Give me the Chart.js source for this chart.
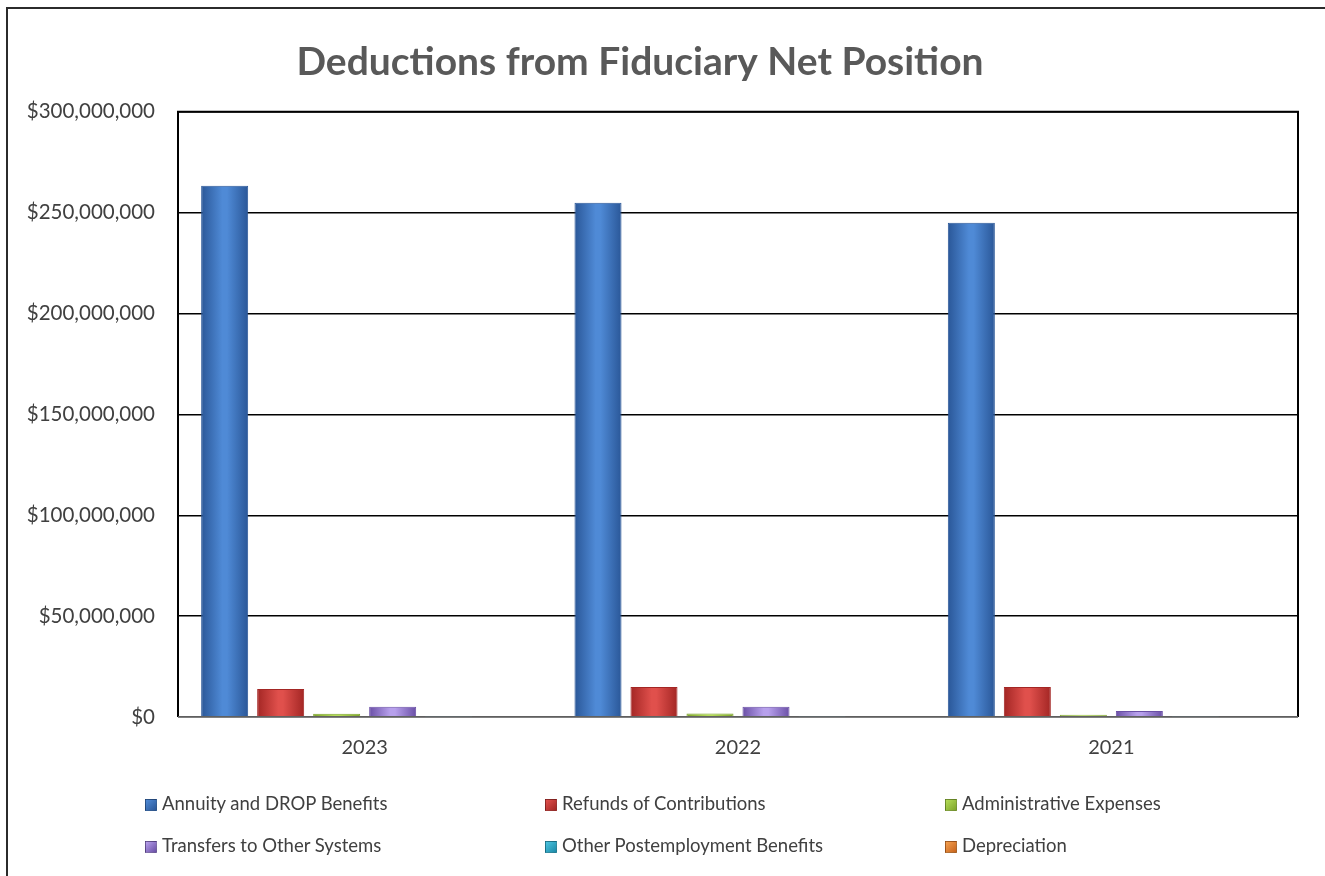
<!DOCTYPE html>
<html>
<head>
<meta charset="utf-8">
<script src="https://cdn.jsdelivr.net/npm/chart.js@4/dist/chart.umd.min.js"></script>
<style>
  html, body { margin: 0; padding: 0; background: #ffffff; }
  #wrap { position: relative; width: 1325px; height: 876px; overflow: hidden; }
  #frame { position: absolute; left: 6px; top: 7px; width: 1330px; height: 880px; border: 2px solid #2b2b2b; box-sizing: border-box; pointer-events: none; }
  canvas { position: absolute; left: 0; top: 0; }
  .lg { position: absolute; font-family: Lato, "Open Sans", sans-serif; font-size: 18.5px; color: #404040; white-space: nowrap; line-height: 24px; }
  .lg i { display: inline-block; width: 12px; height: 12px; margin-right: 5px; vertical-align: -1px; border: 1px solid rgba(0,0,0,0.25); box-sizing: border-box; }
</style>
</head>
<body>
<div id="wrap">
  <canvas id="c" width="1325" height="876"></canvas>
  <div id="frame"></div>
  <div id="legend"></div>
</div>
<script>
const categories = ["2023", "2022", "2021"];
const annuityDrop = [263300000, 254900000, 245000000];
const refunds = [13900000, 14900000, 14900000];
const adminExpenses = [1600000, 1700000, 1100000];
const transfers = [5100000, 5100000, 3000000];
const otherPostemployment = [100000, 100000, 100000];
const depreciation = [400000, 400000, 400000];
const seriesNames = ["Annuity and DROP Benefits", "Refunds of Contributions", "Administrative Expenses", "Transfers to Other Systems", "Other Postemployment Benefits", "Depreciation"];
const yTicks = [0, 50000000, 100000000, 150000000, 200000000, 250000000, 300000000];

const palette = [
  { edge: "#2a5798", mid: "#4f8ad6", flat: "#3b73c0" },
  { edge: "#a32624", mid: "#e0504c", flat: "#c73532" },
  { edge: "#7ea52a", mid: "#b4dc58", flat: "#9cc83c" },
  { edge: "#6a4fa6", mid: "#b7a0ec", flat: "#8b6ec8" },
  { edge: "#1c8aa8", mid: "#4cc4e0", flat: "#2aa8c8" },
  { edge: "#c8641c", mid: "#f4a050", flat: "#e8822a" }
];

function grad(i) {
  return function (ctx) {
    const el = ctx.element;
    const p = palette[i];
    if (!el || el.width === undefined || !isFinite(el.x) || !isFinite(el.width)) return p.flat;
    const c = ctx.chart.ctx;
    const x0 = el.x - el.width / 2, x1 = el.x + el.width / 2;
    const g = c.createLinearGradient(x0, 0, x1, 0);
    g.addColorStop(0, p.edge);
    g.addColorStop(0.45, p.mid);
    g.addColorStop(0.55, p.mid);
    g.addColorStop(1, p.edge);
    return g;
  };
}

const seriesValues = [annuityDrop, refunds, adminExpenses, transfers, otherPostemployment, depreciation];
const datasets = seriesValues.map((vals, i) => ({
  label: seriesNames[i],
  data: vals,
  backgroundColor: grad(i),
  borderColor: palette[i].edge,
  borderWidth: 1,
  barPercentage: 0.84,
  categoryPercentage: 0.9
}));

const plotBorder = {
  id: "plotBorder",
  afterLayout(chart) {
    const t = chart.titleBlock;
    if (t) { t.left -= 18; t.width += 18; }
  },
  afterDraw(chart) {
    const { ctx, chartArea: a } = chart;
    ctx.save();
    ctx.strokeStyle = "#000000";
    ctx.lineWidth = 2;
    ctx.beginPath();
    ctx.moveTo(a.left, a.bottom);
    ctx.lineTo(a.left, a.top);
    ctx.lineTo(a.right, a.top);
    ctx.lineTo(a.right, a.bottom);
    ctx.stroke();
    ctx.strokeStyle = "#7f7f7f";
    ctx.lineWidth = 1.5;
    ctx.beginPath();
    ctx.moveTo(a.left, a.bottom);
    ctx.lineTo(a.right, a.bottom);
    ctx.stroke();
    ctx.restore();
  }
};

const chart = new Chart(document.getElementById("c"), {
  type: "bar",
  data: { labels: categories, datasets: datasets },
  plugins: [plotBorder],
  options: {
    responsive: false,
    animation: false,
    layout: { padding: { left: 0, right: 27, top: 0, bottom: 99 } },
    plugins: {
      legend: { display: false },
      tooltip: { enabled: false },
      title: {
        display: true,
        text: "Deductions from Fiduciary Net Position",
        color: "#595959",
        font: { family: "Lato, 'Open Sans', sans-serif", size: 39, weight: "bold" },
        padding: { top: 39, bottom: 26 }
      }
    },
    scales: {
      x: {
        grid: { display: false, drawTicks: false },
        border: { display: false },
        ticks: { color: "#404040", font: { family: "Lato, 'Open Sans', sans-serif", size: 20 }, padding: 19 },
        afterFit(s) { s.height = 60; }
      },
      y: {
        min: 0, max: 300000000,
        afterBuildTicks(s) { s.ticks = yTicks.map(v => ({ value: v })); },
        grid: { color: "#000000", lineWidth: 1.5, drawTicks: false },
        border: { display: false },
        ticks: {
          color: "#404040",
          font: { family: "Lato, 'Open Sans', sans-serif", size: 20.5 },
          padding: 23,
          callback: v => "$" + Number(v).toLocaleString("en-US")
        },
        afterFit(s) { s.width = 178; }
      }
    }
  }
});
chart.update();

// HTML legend built from dataset labels and colours
const legendPos = [[145, 791], [545, 791], [945, 791], [145, 833], [545, 833], [945, 833]];
const lg = document.getElementById("legend");
chart.data.datasets.forEach((d, i) => {
  const div = document.createElement("div");
  div.className = "lg";
  div.style.left = legendPos[i][0] + "px";
  div.style.top = legendPos[i][1] + "px";
  const sw = document.createElement("i");
  sw.style.background = "linear-gradient(135deg," + palette[i].mid + "," + palette[i].edge + ")";
  div.appendChild(sw);
  div.appendChild(document.createTextNode(d.label));
  lg.appendChild(div);
});
</script>
</body>
</html>
